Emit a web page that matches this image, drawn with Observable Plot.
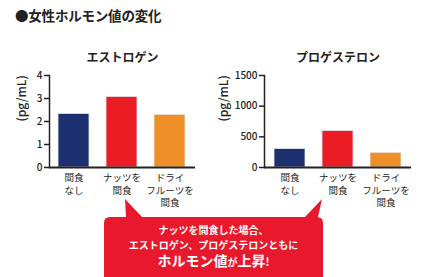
<!DOCTYPE html>
<html><head><meta charset="utf-8">
<script src="https://cdn.jsdelivr.net/npm/d3@7"></script>
<script src="https://cdn.jsdelivr.net/npm/@observablehq/plot@0.6"></script>
<style>
html,body{margin:0;padding:0;background:#fff;}
#wrap{position:relative;width:425px;height:277px;overflow:hidden;font-family:"Noto Sans CJK JP","Noto Sans",sans-serif;color:#222;}
#title{position:absolute;left:15px;top:9px;font-size:13.5px;font-weight:bold;letter-spacing:-0.2px;line-height:1;}
.chart{position:absolute;top:40px;}
#callout{position:absolute;left:0;top:0;}
.cl{position:absolute;left:104px;width:219px;text-align:center;color:#fff;font-weight:bold;white-space:nowrap;line-height:1;}
</style></head>
<body><div id="wrap">
<div id="title">●女性ホルモン値の変化</div>
<div id="c1" class="chart" style="left:0px"></div>
<div id="c2" class="chart" style="left:212px"></div>
<svg id="callout" width="425" height="277">
  <path d="M110,217 L126,217 L125,199 L142,217 L305,217 L322,199 L318,217 L317,217 Q323,217 323,223 L323,277 L104,277 L104,223 Q104,217 110,217 Z" fill="#e8192c"/>
</svg>
<div class="cl" style="top:225px;font-size:10px;">ナッツを間食した場合、</div>
<div class="cl" style="top:240px;font-size:10px;">エストロゲン、プロゲステロンともに</div>
<div class="cl" style="top:253px;font-size:14px;">ホルモン値<span style="font-size:10px">が</span>上昇<span style="font-size:11px">!</span></div>
</div>
<script>
const categories = ["間食なし", "ナッツを間食", "ドライフルーツを間食"];
const tickLabels = ["間食\nなし", "ナッツを\n間食", "ドライ\nフルーツを\n間食"];
const colors = ["#1c2f6e", "#ec1c24", "#ee8f27"];
const estrogen = [2.33, 3.07, 2.29];
const progesterone = [301, 597, 240];
const estrogenTicks = [0, 1, 2, 3, 4];
const progesteroneTicks = [0, 500, 1000, 1500];
const titles = ["エストロゲン", "プロゲステロン"];
const unitLabel = "(pg/mL)";

function chart(values, ticks, title, opts) {
  const data = categories.map((c, i) => ({cat: c, label: tickLabels[i], v: values[i], color: colors[i]}));
  return Plot.plot({
    width: opts.width, height: 170,
    marginTop: 35, marginBottom: 43, marginLeft: opts.ml, marginRight: opts.mr,
    style: {fontFamily: '"Noto Sans CJK JP", sans-serif', background: "transparent", color: "#222"},
    x: {domain: categories, paddingInner: 0.35, paddingOuter: 0.19, axis: null},
    y: {domain: [ticks[0], ticks[ticks.length - 1]], axis: null},
    marks: [
      Plot.barY(data, {x: "cat", y: "v", fill: "color", stroke: "#e8e8f0", strokeWidth: 0.8}),
      Plot.axisY({ticks: ticks, tickSize: 5, tickPadding: 2, fontSize: 10, fontWeight: 500,
        tickFormat: d3.format("d"), label: null, stroke: "#222", strokeWidth: 1.5}),
      Plot.frame({anchor: "left", stroke: "#222", strokeWidth: 1.5}),
      Plot.text(data, {x: "cat", text: "label", frameAnchor: "bottom", lineAnchor: "top", dy: 5,
        lineHeight: 1.3, fontSize: 9.5, fill: "#222"}),
      Plot.ruleY([0], {stroke: "#222", strokeWidth: 1.8}),
      Plot.text([unitLabel], {frameAnchor: "left", dx: -opts.lo, rotate: -90, fontSize: 12, fontWeight: 500, fill: "#222"}),
      Plot.text([title], {frameAnchor: "top", dy: -22, fontSize: 12, fontWeight: "bold", fill: "#222"})
    ]
  });
}
document.getElementById("c1").append(chart(estrogen, estrogenTicks, titles[0], {width: 212, ml: 49, mr: 17, lo: 27}));
document.getElementById("c2").append(chart(progesterone, progesteroneTicks, titles[1], {width: 213, ml: 52, mr: 14, lo: 40}));
</script>
</body></html>
